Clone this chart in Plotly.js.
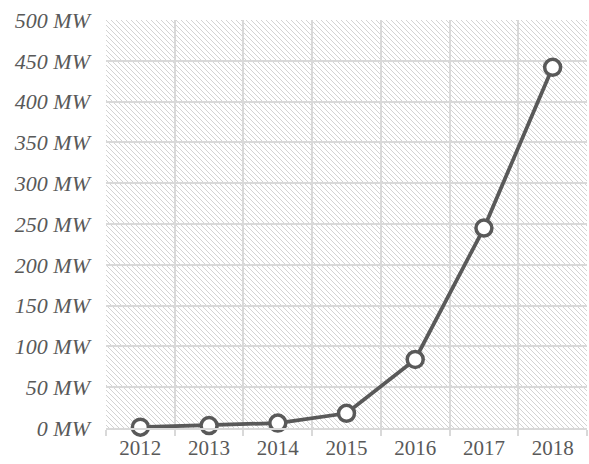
<!DOCTYPE html>
<html>
<head>
<meta charset="utf-8">
<script src="https://cdn.plot.ly/plotly-3.0.1.min.js"></script>
<style>html,body{margin:0;padding:0;background:#fff;}#chart{width:589px;height:464px;}</style>
</head>
<body>
<div id="chart"></div>
<script>
const years = ['2012','2013','2014','2015','2016','2017','2018'];
const capacityMW = [1, 3, 6, 18, 84, 245, 442];
const yTickVals = [0,50,100,150,200,250,300,350,400,450,500];
const yTickText = yTickVals.map(v => v + ' MW');

const hc = '#d3d3d3';
const hatchSvg = '<svg xmlns="http://www.w3.org/2000/svg" width="481" height="408" shape-rendering="crispEdges">' +
  '<defs><pattern id="p" width="5" height="5" patternUnits="userSpaceOnUse">' +
  '<rect x="0" y="0" width="1" height="1" fill="' + hc + '"/>' +
  '<rect x="1" y="1" width="1" height="1" fill="' + hc + '"/>' +
  '<rect x="2" y="2" width="1" height="1" fill="' + hc + '"/>' +
  '<rect x="3" y="3" width="1" height="1" fill="' + hc + '"/>' +
  '<rect x="4" y="4" width="1" height="1" fill="' + hc + '"/>' +
  '</pattern></defs><rect width="481" height="408" fill="#ffffff"/>' +
  '<rect width="481" height="408" fill="url(#p)"/></svg>';
const hatchUri = 'data:image/svg+xml;charset=utf-8,' + encodeURIComponent(hatchSvg);

const trace = {
  x: years,
  y: capacityMW,
  type: 'scatter',
  mode: 'lines+markers',
  line: {color: '#595959', width: 3.75},
  marker: {size: 16, color: '#ffffff', line: {color: '#595959', width: 3.5}},
  cliponaxis: false,
  hoverinfo: 'skip'
};

const layout = {
  width: 589, height: 464,
  margin: {l: 106, r: 2, t: 20, b: 36},
  paper_bgcolor: '#ffffff',
  plot_bgcolor: '#ffffff',
  showlegend: false,
  font: {family: '"Liberation Serif", "Times New Roman", serif', color: '#595959', size: 21},
  xaxis: {
    type: 'category',
    tickson: 'boundaries',
    showgrid: true,
    gridcolor: '#d9d9d9',
    gridwidth: 2,
    ticks: 'outside',
    ticklen: 6,
    tickcolor: '#d9d9d9',
    tickwidth: 2,
    showline: true,
    linecolor: '#d9d9d9',
    linewidth: 2,
    zeroline: false,
    range: [-0.5, 6.5],
    tickfont: {family: '"Liberation Serif", serif', size: 21, color: '#595959'}
  },
  yaxis: {
    range: [0, 500],
    tickvals: yTickVals,
    ticktext: yTickText,
    showgrid: true,
    gridcolor: '#d9d9d9',
    gridwidth: 2,
    zeroline: false,
    showline: false,
    ticks: '',
    ticklabelstandoff: 15,
    tickfont: {family: '"Liberation Serif", serif', size: 22, color: '#595959', style: 'italic'}
  },
  images: [{
    source: hatchUri,
    xref: 'paper', yref: 'paper',
    x: 0, y: 1, sizex: 1, sizey: 1,
    xanchor: 'left', yanchor: 'top',
    sizing: 'stretch',
    layer: 'below'
  }]
};

Plotly.newPlot('chart', [trace], layout, {displayModeBar: false, staticPlot: true});
</script>
</body>
</html>
